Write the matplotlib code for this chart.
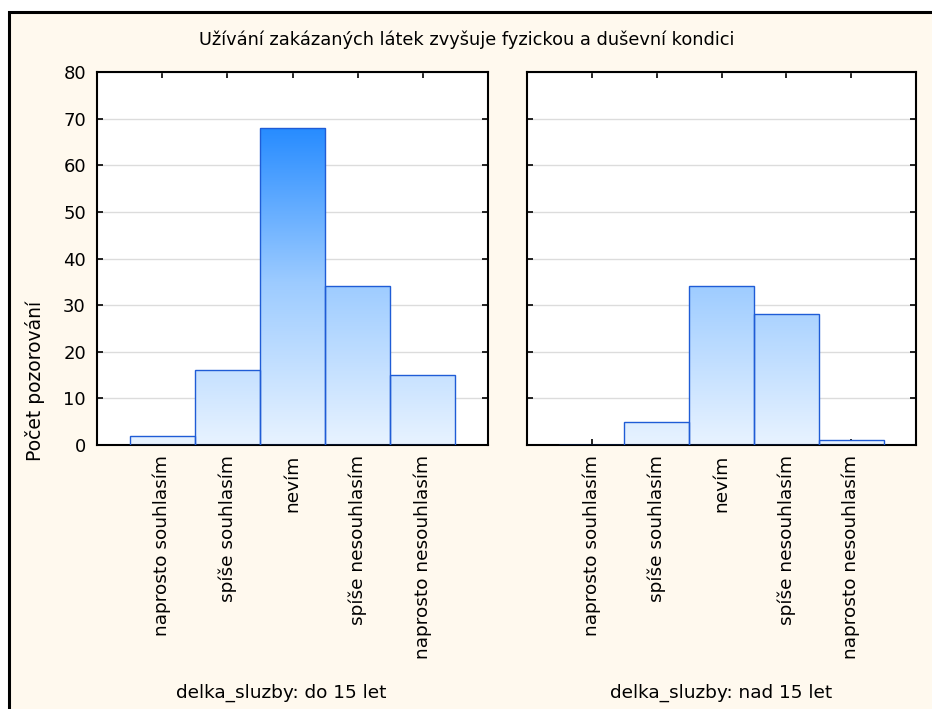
import matplotlib
matplotlib.use("Agg")
import matplotlib.pyplot as plt
import numpy as np
from matplotlib.colors import LinearSegmentedColormap
from matplotlib.patches import Rectangle

plt.rcParams['font.family'] = ['DejaVu Sans']

title = "Užívání zakázaných látek zvyšuje fyzickou a duševní kondici"
categories = ["naprosto souhlasím", "spíše souhlasím", "nevím",
              "spíše nesouhlasím", "naprosto nesouhlasím"]
group_labels = ["delka_sluzby: do 15 let", "delka_sluzby: nad 15 let"]
counts_do15 = [2, 16, 68, 34, 15]
counts_nad15 = [0, 5, 34, 28, 1]
y_ticks = [0, 10, 20, 30, 40, 50, 60, 70, 80]
y_label = "Počet pozorování"

fig = plt.figure(figsize=(9.32, 7.09), dpi=100)
fig.patch.set_facecolor('white')

# cream frame
bg = Rectangle((9/932, -0.01), 1.0, 1 - 12/709 + 0.01, transform=fig.transFigure,
               facecolor='#FFF9EE', edgecolor='black', linewidth=2.2, zorder=-10)
fig.patches.append(bg)

cmap = LinearSegmentedColormap.from_list('g', ['#E8F3FF', '#9CCBFF', '#2088FF'])

positions = [(97/932, 0.3724, (488-97)/932, 0.8984-0.3724),
             (527/932, 0.3724, (916-527)/932, 0.8984-0.3724)]
label_x = [281/932, 721/932]

for i, (vals, lab) in enumerate(zip([counts_do15, counts_nad15], group_labels)):
    ax = fig.add_axes(positions[i])
    ax.set_facecolor('white')
    x = np.arange(len(categories))
    bars = ax.bar(x, vals, width=1.0, color='none', edgecolor='#1F5CD6',
                  linewidth=1.0, zorder=3)
    grad = np.linspace(0, 1, 256).reshape(-1, 1)
    for b in bars:
        if b.get_height() <= 0:
            continue
        im = ax.imshow(grad, extent=(-1, 5, 0, 70), origin='lower', cmap=cmap,
                       aspect='auto', zorder=2, interpolation='bilinear')
        im.set_clip_path(b)
    ax.set_xlim(-1, 5)
    ax.set_ylim(0, 80)
    ax.set_yticks(y_ticks)
    ax.set_xticks(x)
    ax.set_xticklabels(categories, rotation=90, fontsize=13.3)
    ax.grid(axis='y', color='#DCDCDC', linewidth=1.0, zorder=0)
    ax.tick_params(direction='in', length=4, width=1.2, top=True, right=True,
                   labelsize=13, pad=8, colors='black')
    ax.tick_params(axis='x', labelsize=13.3, pad=7)
    for s in ax.spines.values():
        s.set_linewidth(1.5)
    if i != 0:
        ax.tick_params(labelleft=False)
    fig.text(label_x[i], 1 - 693/709, lab, ha='center', va='center', fontsize=13.3)

fig.text(35/932, 1 - 381/709, y_label, rotation=90, ha='center', va='center',
         fontsize=13.5)
fig.text(467/932, 1 - 40/709, title, ha='center', va='center', fontsize=12.8)

fig.savefig('out.png', dpi=100, facecolor=fig.get_facecolor())
